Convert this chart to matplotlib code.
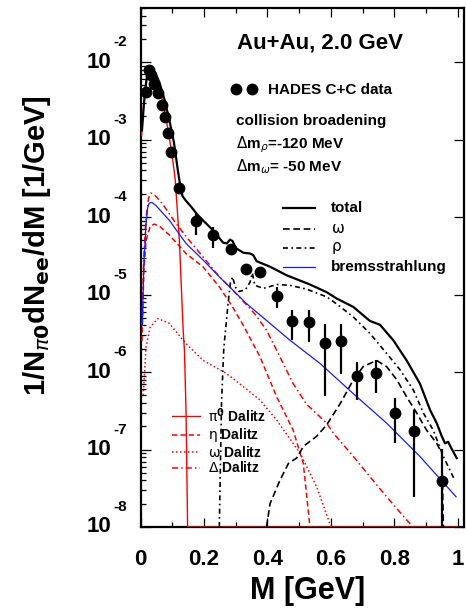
import numpy as np
import matplotlib
matplotlib.use("Agg")
import matplotlib.pyplot as plt
import matplotlib.transforms as mtransforms
from matplotlib.ticker import MultipleLocator, LogLocator, NullFormatter

plt.rcParams['font.family'] = ['Liberation Sans', 'DejaVu Sans']
plt.rcParams['mathtext.fontset'] = 'dejavusans'

# ---------------- data (log10 of 1/N dN/dM) -------------
data_m = [0.0167, 0.027, 0.0325, 0.043, 0.0536, 0.067, 0.0776, 0.087, 0.0956, 0.122,
          0.175, 0.227, 0.284, 0.332, 0.376, 0.429, 0.478, 0.531, 0.581, 0.631,
          0.681, 0.741, 0.802, 0.863, 0.951]
data_log = [-2.383, -2.103, -2.168, -2.284, -2.404, -2.555, -2.705, -2.91, -3.16, -3.62,
            -4.05, -4.23, -4.41, -4.67, -4.71, -5.02, -5.34, -5.35, -5.63, -5.60,
            -6.05, -6.01, -6.53, -6.76, -7.41]
data_log_lo = [-2.383, -2.103, -2.168, -2.284, -2.404, -2.555, -2.705, -2.91, -3.16, -3.62,
               -4.23, -4.40, -4.41, -4.67, -4.71, -5.17, -5.59, -5.61, -6.31, -6.02,
               -6.36, -6.27, -6.91, -7.61, -9.0]
data_log_hi = [-2.383, -2.103, -2.168, -2.284, -2.404, -2.555, -2.705, -2.91, -3.16, -3.62,
               -3.93, -4.125, -4.41, -4.67, -4.71, -4.90, -5.20, -5.20, -5.38, -5.38,
               -5.87, -5.85, -6.34, -6.49, -6.99]

total_m = [0.004, 0.010, 0.015, 0.022, 0.027, 0.035, 0.045, 0.059, 0.075, 0.090, 0.105,
           0.117, 0.125, 0.132, 0.143, 0.160, 0.177, 0.196, 0.228, 0.260, 0.272, 0.282,
           0.290, 0.300, 0.324, 0.345, 0.355, 0.366, 0.408, 0.460, 0.534, 0.587, 0.618,
           0.671, 0.723, 0.755, 0.797, 0.839, 0.881, 0.913, 0.934, 0.950, 0.960, 0.970,
           0.981, 0.997]
total_log = [-2.88, -2.55, -2.33, -2.12, -2.05, -2.07, -2.13, -2.26, -2.48, -2.74, -3.04,
             -3.39, -3.60, -3.73, -3.79, -3.87, -3.96, -4.04, -4.17, -4.33, -4.34, -4.29,
             -4.31, -4.40, -4.46, -4.47, -4.49, -4.57, -4.64, -4.75, -4.87, -4.97, -5.05,
             -5.16, -5.34, -5.39, -5.59, -5.85, -6.15, -6.49, -6.66, -6.83, -6.92, -6.90,
             -6.99, -7.11]

pi0_m = [0.003, 0.008, 0.0146, 0.022, 0.027, 0.035, 0.043, 0.059, 0.075, 0.090, 0.101,
         0.109, 0.122, 0.134, 0.138, 0.143, 0.148, 1.0]
pi0_log = [-2.95, -2.62, -2.36, -2.10, -2.06, -2.09, -2.15, -2.32, -2.62, -2.96, -3.26,
           -3.52, -4.30, -5.46, -5.72, -6.50, -8.0, -8.0]

eta_m = [0.004, 0.010, 0.017, 0.030, 0.043, 0.060, 0.090, 0.143, 0.196, 0.248, 0.290,
         0.324, 0.376, 0.429, 0.481, 0.513, 0.534]
eta_log = [-5.60, -4.70, -4.30, -4.12, -4.09, -4.12, -4.23, -4.47, -4.64, -4.90, -5.16,
           -5.40, -5.80, -6.32, -6.75, -7.18, -8.0]

omegad_m = [0.008, 0.017, 0.030, 0.054, 0.090, 0.140, 0.197, 0.271, 0.324, 0.376, 0.429,
            0.503, 0.555, 0.597, 0.602]
omegad_log = [-6.30, -5.67, -5.42, -5.31, -5.37, -5.62, -5.85, -6.02, -6.19, -6.36, -6.62,
              -7.05, -7.48, -7.96, -8.0]

delta_m = [0.004, 0.010, 0.017, 0.025, 0.0325, 0.045, 0.069, 0.111, 0.153, 0.196, 0.248,
           0.290, 0.322, 0.360, 0.397, 0.429, 0.481, 0.524, 0.587, 0.608, 0.671, 0.723,
           0.776, 0.839, 0.860]
delta_log = [-5.40, -4.50, -4.00, -3.75, -3.69, -3.72, -3.83, -4.08, -4.30, -4.51, -4.77,
             -4.94, -5.08, -5.25, -5.46, -5.72, -6.15, -6.42, -6.66, -6.79, -7.09, -7.35,
             -7.61, -7.91, -8.0]

brems_m = [0.005, 0.010, 0.017, 0.022, 0.027, 0.035, 0.048, 0.070, 0.090, 0.143, 0.196,
           0.248, 0.300, 0.332, 0.471, 0.566, 0.671, 0.776, 0.881, 0.995]
brems_log = [-5.40, -4.60, -4.09, -3.88, -3.82, -3.81, -3.85, -3.95, -4.04, -4.34, -4.55,
             -4.77, -4.98, -5.11, -5.59, -5.89, -6.28, -6.66, -7.09, -7.61]

omega_m = [0.397, 0.408, 0.440, 0.466, 0.492, 0.513, 0.555, 0.587, 0.629, 0.671, 0.702,
           0.744, 0.776, 0.808, 0.839, 0.871, 0.902, 0.934, 0.950, 0.955]
omega_log = [-8.0, -7.70, -7.39, -7.18, -7.11, -6.96, -6.83, -6.68, -6.41, -6.10, -5.93,
             -5.85, -5.93, -6.10, -6.32, -6.53, -6.75, -6.92, -7.05, -8.0]

rho_m = [0.248, 0.255, 0.262, 0.269, 0.276, 0.283, 0.290, 0.298, 0.310, 0.330, 0.345,
         0.352, 0.360, 0.387, 0.430, 0.470, 0.524, 0.587, 0.618, 0.671, 0.723, 0.776,
         0.818, 0.860, 0.892, 0.923, 0.955, 0.990]
rho_log = [-8.0, -6.40, -5.70, -5.40, -5.10, -4.85, -4.77, -4.90, -4.96, -4.94, -4.84,
           -4.72, -4.88, -4.92, -4.87, -4.88, -4.93, -5.03, -5.12, -5.29, -5.50, -5.76,
           -5.97, -6.23, -6.53, -6.75, -7.09, -7.39]

x_ticks = [0, 0.2, 0.4, 0.6, 0.8, 1]
x_ticklabels = ["0", "0.2", "0.4", "0.6", "0.8", "1"]
y_decades = [-8, -7, -6, -5, -4, -3, -2]

def v(a):
    return 10.0 ** np.asarray(a, dtype=float)

# ---------------- figure ----------------
fig = plt.figure(figsize=(4.66, 6.16), dpi=100)
W, H = 466.0, 616.0
L, R, T, B = 140.7, 464.0, 8.0, 527.0
ax = fig.add_axes([L / W, 1 - B / H, (R - L) / W, (B - T) / H])
ax.set_yscale('log')
ax.set_xlim(0, 1.02)
ax.set_ylim(1e-8, 5e-2)

RED = '#ff0000'
BLUE = '#1a1aff'
LS_ETA = (0, (3.5, 2.0))
LS_OMD = (0, (1.0, 1.6))
LS_DEL = (0, (4.0, 2.0, 1.0, 2.0))
LS_OMG = (0, (4.0, 2.2))
LS_RHO = (0, (3.0, 2.0, 1.0, 2.0))

ax.plot(pi0_m, v(pi0_log), color=RED, lw=1.0, zorder=3)
ax.plot(eta_m, v(eta_log), color=RED, lw=1.1, ls=LS_ETA, zorder=3)
ax.plot(omegad_m, v(omegad_log), color=RED, lw=1.1, ls=LS_OMD, zorder=3)
ax.plot(delta_m, v(delta_log), color=RED, lw=1.1, ls=LS_DEL, zorder=3)
ax.plot(brems_m, v(brems_log), color=BLUE, lw=0.9, zorder=3)
ax.plot(omega_m, v(omega_log), color='black', lw=1.2, ls=LS_OMG, zorder=3)
ax.plot(rho_m, v(rho_log), color='black', lw=1.2, ls=LS_RHO, zorder=3)
ax.plot(total_m, v(total_log), color='black', lw=1.6, zorder=4)

dy = v(data_log)
ax.errorbar(data_m, dy, yerr=[dy - v(data_log_lo), v(data_log_hi) - dy], fmt='o',
            color='black', ms=7.5, elinewidth=1.6, capsize=0, zorder=5)

# ---------------- axes styling ----------------
for s in ax.spines.values():
    s.set_linewidth(1.6)
ax.set_xticks(x_ticks)
ax.set_xticklabels(x_ticklabels, fontsize=16, fontweight='bold')
ax.xaxis.set_minor_locator(MultipleLocator(0.1))
ax.yaxis.set_major_locator(LogLocator(base=10, numticks=20))
ax.yaxis.set_minor_locator(LogLocator(base=10, subs=np.arange(2, 10), numticks=40))
ax.yaxis.set_major_formatter(NullFormatter())
ax.yaxis.set_minor_formatter(NullFormatter())
ax.tick_params(axis='x', which='major', direction='in', length=6.5, width=0.9,
               top=True, bottom=True, pad=16)
ax.tick_params(axis='x', which='minor', direction='in', length=3.6, width=0.9,
               top=True, bottom=True)
ax.tick_params(axis='y', which='major', direction='in', length=7, width=0.9,
               left=True, right=True)
ax.tick_params(axis='y', which='minor', direction='in', length=3.8, width=0.9,
               left=True, right=False)

# y tick labels in ROOT style "10" with raised exponent
ytrans = mtransforms.blended_transform_factory(ax.transAxes, ax.transData)
exptrans = mtransforms.offset_copy(ytrans, fig=fig, y=20, units='dots')
for d in y_decades:
    ax.text(-0.092, 10.0 ** d, "10", transform=ytrans, ha='right', va='center',
            fontsize=16, fontweight='bold', clip_on=False)
    ax.text(-0.086, 10.0 ** d, "%d" % d, transform=exptrans, ha='left', va='center',
            fontsize=11, fontweight='bold', clip_on=False)

ax.set_xlabel("M [GeV]", fontsize=22, fontweight='bold')
ax.xaxis.set_label_coords(0.517, -0.123)
ax.xaxis.label.set_va('center')
ax.set_ylabel(r"1/N$_{\pi\mathbf{0}}$dN$_{\mathbf{ee}}$/dM [1/GeV]", fontsize=21,
              fontweight='bold')
ax.yaxis.set_label_coords(-0.322, 0.543)
ax.yaxis.label.set_va('center')

# ---------------- annotations ----------------
ax.text(0.298, 0.922, "Au+Au, 2.0 GeV", transform=ax.transAxes, fontsize=16,
        fontweight='bold', ha='left', va='baseline')
ax.plot([0.295, 0.343], [0.844, 0.844], 'o', color='black', ms=7.5,
        transform=ax.transAxes, clip_on=False)
ax.text(0.393, 0.8337, "HADES C+C data", transform=ax.transAxes, fontsize=11,
        fontweight='bold', ha='left', va='baseline')
ax.text(0.295, 0.7746, "collision broadening", transform=ax.transAxes, fontsize=11,
        fontweight='bold', ha='left', va='baseline')
ax.text(0.295, 0.730, r"$\Delta$m$_\rho$=-120 MeV", transform=ax.transAxes, fontsize=11,
        fontweight='bold', ha='left', va='baseline')
ax.text(0.295, 0.6846, r"$\Delta$m$_\omega$= -50 MeV", transform=ax.transAxes, fontsize=11,
        fontweight='bold', ha='left', va='baseline')

# right legend
leg_r = [("total", dict(color='black', lw=1.6), True),
         (r"$\mathrm{\omega}$", dict(color='black', lw=1.2, ls=LS_OMG), False),
         (r"$\mathrm{\rho}$", dict(color='black', lw=1.2, ls=LS_RHO), False),
         ("bremsstrahlung", dict(color=BLUE, lw=0.9), True)]
leg_r_y = [0.6152, 0.5736, 0.537, 0.5003]
for (lab, kw, bold), yy in zip(leg_r, leg_r_y):
    ax.plot([0.441, 0.539], [yy, yy], transform=ax.transAxes, **kw)
    ax.text(0.589, yy, lab, transform=ax.transAxes, fontsize=11,
            fontweight='bold' if bold else 'normal', ha='left', va='center')

# lower-left legend
leg_l = [(r"$\mathrm{\pi}^{\mathbf{0}}$ Dalitz", dict(color=RED, lw=1.0)),
         (r"$\mathrm{\eta}$ Dalitz", dict(color=RED, lw=1.1, ls=LS_ETA)),
         (r"$\mathrm{\omega}$ Dalitz", dict(color=RED, lw=1.1, ls=LS_OMD)),
         (r"$\Delta$ Dalitz", dict(color=RED, lw=1.1, ls=LS_DEL))]
leg_l_y = [0.2140, 0.1775, 0.1445, 0.1137]
for (lab, kw), yy in zip(leg_l, leg_l_y):
    ax.plot([0.0977, 0.1834], [yy, yy], transform=ax.transAxes, **kw)
    ax.text(0.209, yy, lab, transform=ax.transAxes, fontsize=10,
            fontweight='bold', ha='left', va='center')

fig.savefig("out.png", dpi=100)
